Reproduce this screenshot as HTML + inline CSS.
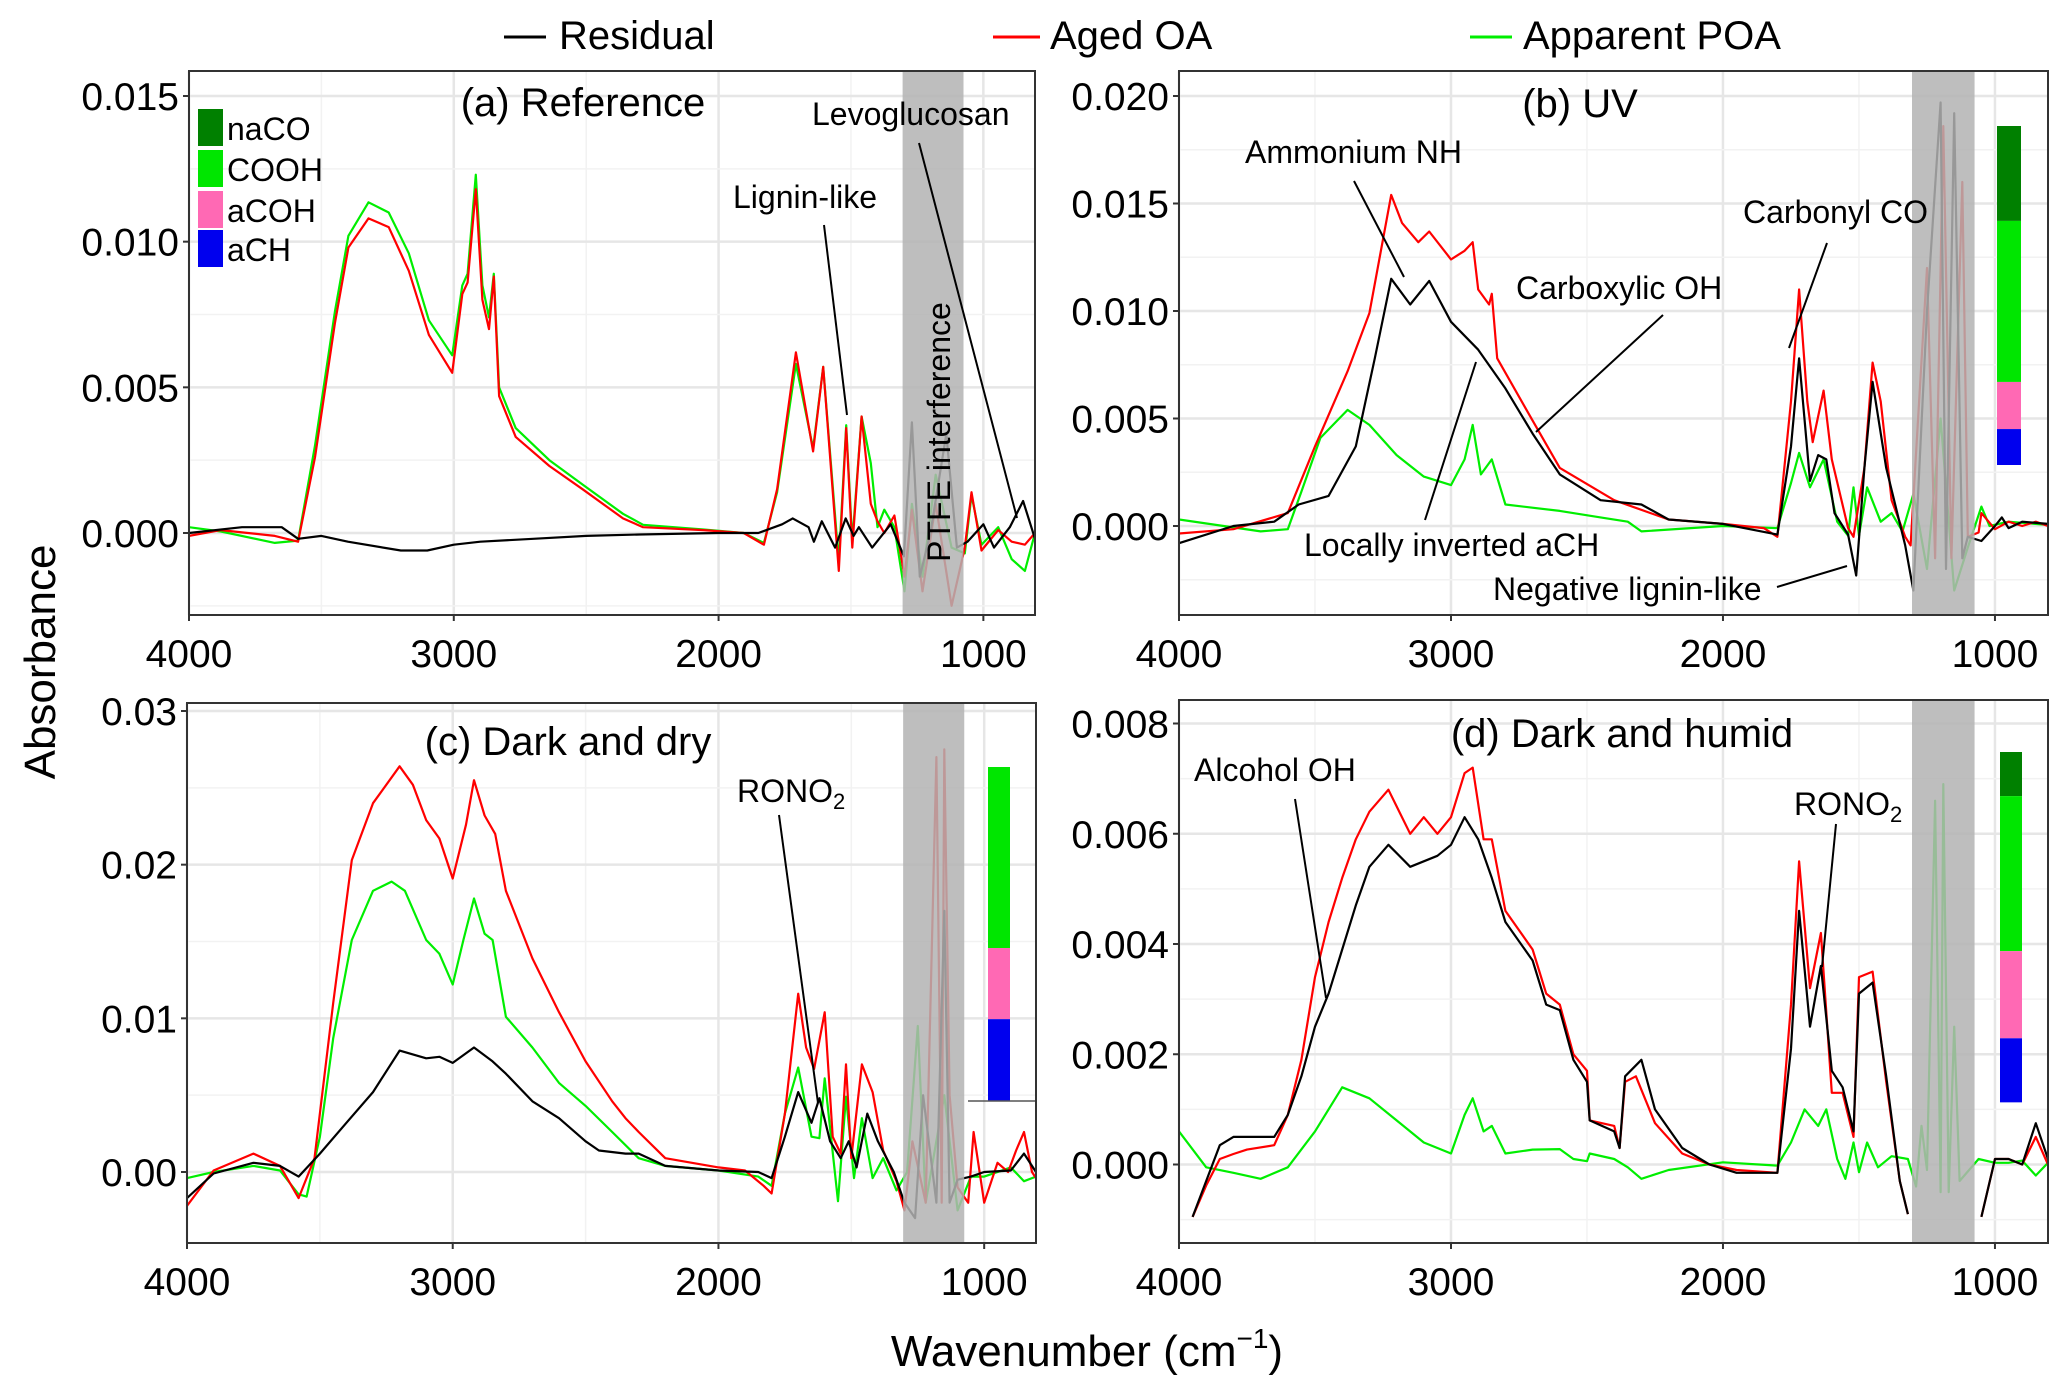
<!DOCTYPE html>
<html><head><meta charset="utf-8">
<style>
html,body{margin:0;padding:0;background:#fff;}
svg{display:block;font-family:"Liberation Sans",sans-serif;}
</style></head>
<body>
<svg id="chart" width="2067" height="1390" viewBox="0 0 2067 1390" xmlns="http://www.w3.org/2000/svg">
<g id="legend">
  <g><line x1="504" y1="37" x2="546" y2="37" stroke="#000" stroke-width="3"/><text x="559" y="49" font-size="40">Residual</text></g>
  <g><line x1="993" y1="37" x2="1040" y2="37" stroke="#f00" stroke-width="3"/><text x="1050" y="49" font-size="40">Aged OA</text></g>
  <g><line x1="1470" y1="37" x2="1512" y2="37" stroke="#0e0" stroke-width="3"/><text x="1523" y="49" font-size="40">Apparent POA</text></g>
</g>
<text transform="translate(55,662) rotate(-90)" text-anchor="middle" font-size="44">Absorbance</text>
<text x="1087" y="1366" text-anchor="middle" font-size="44">Wavenumber (cm<tspan dy="-18" font-size="28">−1</tspan><tspan dy="18">)</tspan></text>
</svg>
<script>
// ---------- data (absorbance in units of 1e-3) ----------
const aResWn=[4000,3800,3650,3588,3500,3400,3200,3100,3000,2900,2700,2500,2300,2000,1850,1760,1720,1660,1640,1610,1560,1520,1490,1470,1420,1350,1300,1270,1240,1200,1140,1100,1060,1000,960,900,850,805];
const aResVal=[0,0.2,0.2,-0.2,-0.1,-0.3,-0.6,-0.6,-0.4,-0.3,-0.2,-0.1,-0.05,0,0,0.3,0.5,0.2,-0.3,0.4,-0.5,0.5,-0.1,0.2,-0.5,0.3,-0.8,3.8,-1.5,0,3.4,-0.5,-0.3,0.3,-0.5,0.2,1.1,-0.2];
const aAgedWn=[4000,3879,3676,3588,3524,3449,3398,3322,3246,3170,3094,3006,2968,2948,2917,2892,2867,2849,2829,2766,2639,2513,2361,2285,2057,1905,1829,1779,1708,1643,1605,1546,1518,1495,1460,1425,1400,1374,1336,1298,1270,1230,1180,1120,1070,1045,1007,944,893,843,805];
const aAgedVal=[-0.1,0.1,-0.1,-0.3,2.6,7.2,9.8,10.8,10.5,9.0,6.8,5.5,8.2,8.6,11.8,8.0,7.0,8.8,4.7,3.3,2.3,1.5,0.5,0.2,0.1,0,-0.4,1.5,6.2,2.8,5.7,-1.3,3.6,-0.5,4.0,1.0,0.4,0.0,0.6,-1.5,0.8,-2.0,1.0,-2.5,-0.5,1.4,-0.6,0.1,-0.3,-0.4,0];
const aPoaWn=aAgedWn;
const aPoaVal=[0.2,0.05,-0.34,-0.26,3.0,7.6,10.2,11.35,11.0,9.6,7.3,6.1,8.5,8.9,12.3,8.5,7.4,8.9,5.0,3.6,2.5,1.66,0.66,0.28,0.12,0,-0.34,1.4,5.8,2.9,5.7,-1.0,3.7,-0.3,4.0,2.4,0.2,0.8,0.2,-2.0,1.0,-1.5,2.0,-0.5,-0.7,1.3,-0.4,0.2,-0.9,-1.3,0];

const bAgedWn=[4000,3800,3600,3500,3380,3300,3220,3180,3120,3080,3000,2950,2920,2900,2860,2850,2830,2700,2600,2400,2200,2000,1850,1800,1750,1720,1690,1670,1630,1600,1540,1520,1480,1450,1420,1380,1330,1310,1250,1220,1190,1160,1120,1100,1060,1050,1000,950,900,850,805];
const bAgedVal=[-0.35,-0.15,0.6,3.7,7.2,9.9,15.4,14.1,13.2,13.7,12.4,12.8,13.2,11.0,10.3,10.8,7.8,4.9,2.7,1.2,0.3,0.1,-0.1,-0.5,5.8,11.0,5.8,3.9,6.3,3.1,-0.1,-0.5,2.7,7.6,5.8,1.2,-0.5,-0.9,12.0,-1.5,18.6,-1.5,16.0,-0.5,-0.3,0.6,-0.15,0.2,0,0.2,0];
const bResWn=[4000,3800,3650,3560,3450,3350,3280,3220,3150,3080,3000,2900,2800,2700,2600,2450,2300,2200,2000,1800,1750,1720,1680,1650,1620,1590,1540,1510,1480,1450,1400,1330,1300,1250,1200,1180,1150,1120,1100,1050,1000,975,950,900,805];
const bResVal=[-0.8,0,0.2,1.0,1.4,3.7,7.8,11.5,10.3,11.4,9.5,8.2,6.4,4.3,2.4,1.2,1.0,0.3,0.1,-0.4,3.7,7.8,2.1,3.3,3.1,0.6,-0.4,-2.3,2.7,6.7,2.7,-0.9,-3.0,10.0,19.7,-2,19.2,-1.5,-0.5,-0.7,0,0.4,-0.1,0.2,0.1];
const bPoaWn=[4000,3700,3600,3550,3480,3380,3300,3200,3100,3000,2950,2920,2890,2850,2800,2600,2450,2350,2300,2000,1800,1750,1720,1680,1630,1580,1540,1520,1500,1470,1420,1380,1340,1300,1250,1200,1150,1100,1050,1020,950,805];
const bPoaVal=[0.3,-0.25,-0.15,1.6,4.1,5.4,4.7,3.3,2.3,1.9,3.1,4.7,2.4,3.1,1.0,0.7,0.4,0.2,-0.25,0,-0.1,2.0,3.4,1.8,3.1,0.2,-0.45,1.8,-0.45,1.8,0.2,0.6,-0.25,1.5,-2.0,5.0,-3.0,-1,0.9,0,0.2,0.05];

const cAgedWn=[4000,3900,3750,3650,3580,3520,3450,3380,3300,3200,3150,3100,3050,3000,2950,2920,2880,2840,2800,2700,2600,2500,2400,2350,2300,2200,2000,1900,1830,1800,1750,1700,1670,1640,1600,1570,1540,1520,1500,1460,1420,1380,1330,1300,1270,1220,1180,1160,1150,1130,1100,1060,1040,1000,950,910,880,850,820,805];
const cAgedVal=[-2.2,0.1,1.2,0.4,-1.7,0.9,11.0,20.3,24.0,26.4,25.2,22.9,21.7,19.1,22.6,25.5,23.2,22.0,18.3,13.9,10.4,7.2,4.6,3.5,2.6,0.9,0.3,0.1,-0.9,-1.4,3.8,11.6,8.1,6.7,10.4,2.3,1.2,7.0,0.9,7.0,5.2,1.4,-0.6,-2.5,2,-2,27,-2,27.5,5,-1,-2.0,2.6,-2.0,0.6,0,1.4,2.6,0,-0.4];
const cPoaWn=[4000,3900,3750,3650,3580,3550,3500,3450,3380,3300,3230,3180,3100,3050,3000,2960,2920,2880,2850,2800,2700,2600,2500,2400,2300,2200,2000,1850,1800,1750,1700,1650,1620,1600,1550,1520,1490,1460,1420,1380,1330,1290,1250,1220,1150,1100,1050,1000,900,850,805];
const cPoaVal=[-0.4,0,0.4,0.1,-1.45,-1.6,2.3,8.7,15.1,18.3,18.9,18.3,15.1,14.2,12.2,15.1,17.8,15.5,15.1,10.1,8.1,5.8,4.3,2.6,0.9,0.4,0.1,-0.3,-0.9,3.8,6.8,2.3,2.2,6.1,-1.9,4.9,-0.4,3.5,-0.4,0.9,-1.2,0,9.5,-2,5,-2.5,-0.3,-0.3,0.3,-0.6,-0.3];
const cResWn=[4000,3900,3750,3650,3580,3500,3400,3300,3200,3100,3050,3000,2920,2850,2800,2700,2600,2500,2450,2350,2300,2200,2000,1850,1800,1750,1700,1650,1620,1580,1540,1510,1480,1440,1400,1340,1300,1260,1230,1180,1150,1130,1100,1050,1000,900,850,805];
const cResVal=[-1.7,-0.1,0.6,0.4,-0.3,1.2,3.2,5.2,7.9,7.4,7.5,7.1,8.1,7.2,6.4,4.6,3.5,2.0,1.4,1.2,1.2,0.4,0.1,0,-0.4,2.3,5.2,3.2,4.8,2.0,0.9,2.0,0.3,3.8,2.0,0,-2.0,-3,5,-2,17,-2,-0.5,-0.3,0,0.1,1.2,0];

const dAgedWn=[3950,3900,3850,3800,3750,3650,3600,3550,3500,3450,3400,3350,3300,3230,3150,3100,3050,3000,2950,2920,2880,2850,2800,2700,2650,2600,2550,2500,2490,2400,2380,2360,2320,2250,2150,2050,1950,1800,1750,1720,1680,1640,1600,1560,1520,1500,1450,1400,1350,1320,null,1050,1000,950,900,850,805];
const dAgedVal=[-0.95,-0.38,0.1,0.19,0.27,0.35,0.9,1.9,3.4,4.4,5.2,5.9,6.4,6.8,6.0,6.3,6.0,6.3,7.1,7.2,5.9,5.9,4.6,3.9,3.1,2.9,2.0,1.7,0.8,0.7,0.3,1.5,1.6,0.75,0.2,0.0,-0.1,-0.15,2.9,5.5,3.2,4.2,1.3,1.3,0.5,3.4,3.5,1.5,-0.3,-0.9,null,-0.95,0.1,0.1,0.0,0.5,0.0];
const dResWn=[3950,3900,3850,3800,3650,3600,3550,3500,3450,3400,3350,3300,3230,3150,3100,3050,3000,2950,2900,2850,2800,2700,2650,2600,2550,2500,2490,2400,2380,2360,2300,2250,2150,2050,1950,1800,1750,1720,1680,1640,1600,1560,1520,1500,1450,1400,1350,1320,null,1050,1000,950,900,850,805];
const dResVal=[-0.95,-0.3,0.35,0.5,0.5,0.9,1.6,2.5,3.1,3.9,4.7,5.4,5.8,5.4,5.5,5.6,5.8,6.3,5.9,5.2,4.4,3.7,2.9,2.8,1.9,1.5,0.8,0.6,0.3,1.6,1.9,1.0,0.3,0.0,-0.15,-0.15,2.1,4.6,2.5,3.6,1.7,1.4,0.6,3.1,3.3,1.6,-0.3,-0.9,null,-0.95,0.1,0.1,0.0,0.75,0.1];
const dPoaWn=[4000,3900,3800,3700,3600,3500,3400,3300,3200,3100,3000,2950,2920,2880,2850,2800,2700,2600,2550,2500,2490,2400,2350,2300,2200,2000,1800,1750,1700,1650,1620,1580,1550,1520,1500,1470,1430,1380,1320,1290,1270,1250,1220,1200,1190,1170,1150,1130,1060,1000,950,900,850,805];
const dPoaVal=[0.6,-0.05,-0.15,-0.26,-0.05,0.6,1.4,1.2,0.8,0.4,0.2,0.9,1.2,0.6,0.7,0.2,0.27,0.28,0.1,0.06,0.2,0.1,-0.05,-0.26,-0.1,0.04,-0.02,0.4,1.0,0.7,1.0,0.1,-0.26,0.4,-0.14,0.4,-0.05,0.15,0.1,-0.4,0.7,-0.1,6.6,-0.5,6.9,-0.5,2.5,-0.3,0.1,0.03,0.03,0.07,-0.2,0.03];

// functional-group bar fractions (naCO, COOH, aCOH, aCH)
const barGroups=["naCO","COOH","aCOH","aCH"];
const bBarFrac=[0.28,0.475,0.139,0.106];
const cBarFrac=[0,0.542,0.213,0.245];
const dBarFrac=[0.126,0.443,0.249,0.183];

const xTickVals=[4000,3000,2000,1000];
const aYTicks=[0,0.005,0.010,0.015], aYLabels=["0.000","0.005","0.010","0.015"];
const bYTicks=[0,0.005,0.010,0.015,0.020], bYLabels=["0.000","0.005","0.010","0.015","0.020"];
const cYTicks=[0,0.01,0.02,0.03], cYLabels=["0.00","0.01","0.02","0.03"];
const dYTicks=[0,0.002,0.004,0.006,0.008], dYLabels=["0.000","0.002","0.004","0.006","0.008"];

// ---------- drawing ----------
const NS="http://www.w3.org/2000/svg";
const svg=document.getElementById('chart');
function mk(tag,attrs,parent){const e=document.createElementNS(NS,tag);for(const k in attrs)e.setAttribute(k,attrs[k]);(parent||svg).appendChild(e);return e;}
const COLORS={naCO:"#008000",COOH:"#00e600",aCOH:"#ff69b4",aCH:"#0000ee"};

function panel(P){
  const g=mk('g',{});
  
  
  const X=wn=>P.x0+(4000-wn)/(4000-805)*(P.x1-P.x0);
  const Y=v=>P.yZero+(P.yRef-P.yZero)*(v/P.refVal);
  mk('rect',{x:P.x0,y:P.y0,width:P.x1-P.x0,height:P.y1-P.y0,fill:'#fff'},g);
  // grid
  [1500,2500,3500].forEach(w=>mk('line',{x1:X(w),x2:X(w),y1:P.y0,y2:P.y1,stroke:'#f2f2f2','stroke-width':1.5},g));
  xTickVals.forEach(w=>mk('line',{x1:X(w),x2:X(w),y1:P.y0,y2:P.y1,stroke:'#e6e6e6','stroke-width':2.5},g));
  const step=P.yTicks[1]-P.yTicks[0];
  for(let v=P.yTicks[0]-step*1.5;v<P.yTicks[P.yTicks.length-1]+step;v+=step){const y=Y(v);if(y>P.y0&&y<P.y1)mk('line',{x1:P.x0,x2:P.x1,y1:y,y2:y,stroke:'#f2f2f2','stroke-width':1.5},g);}
  P.yTicks.forEach(v=>mk('line',{x1:P.x0,x2:P.x1,y1:Y(v),y2:Y(v),stroke:'#e6e6e6','stroke-width':2.5},g));
  // series
  const clip='clip-'+P.id;
  const cp=mk('clipPath',{id:clip},g);mk('rect',{x:P.x0,y:P.y0,width:P.x1-P.x0,height:P.y1-P.y0},cp);
  const series=[[P.poaWn,P.poaVal,'#00ee00','apparent-poa-line'],[P.agedWn,P.agedVal,'#ff0000','aged-oa-line'],[P.resWn,P.resVal,'#000','residual-line']];
  series.forEach(s=>{
    let d='',pen=false;
    for(let i=0;i<s[0].length;i++){
      if(s[0][i]===null){pen=false;continue;}
      d+=(pen?'L':'M')+X(s[0][i]).toFixed(1)+','+Y(s[1][i]/1000).toFixed(1);pen=true;
    }
    const p=mk('path',{d:d,fill:'none',stroke:s[2],'stroke-width':2.2,'clip-path':'url(#'+clip+')','stroke-linejoin':'round'},g);
    
    
  });
  // PTFE band
  const band=mk('rect',{x:X(1305),y:P.y0,width:X(1075)-X(1305),height:P.y1-P.y0,fill:'#b3b3b3','fill-opacity':0.85},g);
  
  
  // bars
  if(P.bar){
    const B=P.bar;let y=B.top;
    barGroups.forEach((k,i)=>{const h=B.frac[i]*(B.bottom-B.top);if(h>0){const r=mk('rect',{x:B.x,y:y,width:B.w,height:h,fill:COLORS[k]},g);
      
      }
      y+=h;});
  }
  // border
  mk('rect',{x:P.x0,y:P.y0,width:P.x1-P.x0,height:P.y1-P.y0,fill:'none',stroke:'#333','stroke-width':2},g);
  // ticks
  xTickVals.forEach(w=>{mk('line',{x1:X(w),x2:X(w),y1:P.y1,y2:P.y1+6,stroke:'#333','stroke-width':2},g);
    const t=mk('text',{x:X(w),y:P.y1+52,'text-anchor':'middle','font-size':39},g);t.textContent=w;
    
    });
  P.yTicks.forEach((v,i)=>{mk('line',{x1:P.x0-6,x2:P.x0,y1:Y(v),y2:Y(v),stroke:'#333','stroke-width':2},g);
    const t=mk('text',{x:P.x0-10,y:Y(v)+14,'text-anchor':'end','font-size':39},g);t.textContent=P.yLabels[i];
    
    });
  const tt=mk('text',{x:P.titleX,y:P.titleY,'text-anchor':'middle','font-size':40},g);tt.textContent=P.title;
  
  
  return g;
}
function annot(label,tx,ty,x1,y1,x2,y2,sub){
  const g=mk('g',{});
  
  
  const t=mk('text',{x:tx,y:ty,'font-size':32},g);t.textContent=label;
  if(sub){const s=mk('tspan',{'font-size':22,dy:7},t);s.textContent=sub;}
  mk('line',{x1:x1,y1:y1,x2:x2,y2:y2,stroke:'#000','stroke-width':2},g);
}

panel({id:'a',x0:189,x1:1035,y0:71,y1:615,yZero:533,yRef:96,refVal:0.015,yTicks:aYTicks,yLabels:aYLabels,
  resWn:aResWn,resVal:aResVal,agedWn:aAgedWn,agedVal:aAgedVal,poaWn:aPoaWn,poaVal:aPoaVal,title:'(a) Reference',titleX:583,titleY:116});
panel({id:'b',x0:1179,x1:2048,y0:71,y1:615,yZero:526,yRef:96,refVal:0.020,yTicks:bYTicks,yLabels:bYLabels,
  resWn:bResWn,resVal:bResVal,agedWn:bAgedWn,agedVal:bAgedVal,poaWn:bPoaWn,poaVal:bPoaVal,title:'(b) UV',titleX:1580,titleY:117,
  bar:{x:1997,w:24,top:126,bottom:465,frac:bBarFrac}});
panel({id:'c',x0:187,x1:1036,y0:703,y1:1243,yZero:1172,yRef:711,refVal:0.03,yTicks:cYTicks,yLabels:cYLabels,
  resWn:cResWn,resVal:cResVal,agedWn:cAgedWn,agedVal:cAgedVal,poaWn:cPoaWn,poaVal:cPoaVal,title:'(c) Dark and dry',titleX:568,titleY:755,
  bar:{x:988,w:22,top:767,bottom:1101,frac:cBarFrac}});
mk('line',{x1:968,x2:1035,y1:1101,y2:1101,stroke:'#555','stroke-width':1.5});
panel({id:'d',x0:1179,x1:2048,y0:700,y1:1243,yZero:1164.5,yRef:723.5,refVal:0.008,yTicks:dYTicks,yLabels:dYLabels,
  resWn:dResWn,resVal:dResVal,agedWn:dAgedWn,agedVal:dAgedVal,poaWn:dPoaWn,poaVal:dPoaVal,title:'(d) Dark and humid',titleX:1622,titleY:747,
  bar:{x:2000,w:22,top:752,bottom:1102,frac:dBarFrac}});

// legend squares in panel (a)
[['naCO',109],['COOH',150],['aCOH',191],['aCH',230]].forEach(([k,y])=>{
  const g=mk('g',{});
  
  
  mk('rect',{x:198,y:y,width:25,height:37,fill:COLORS[k]},g);
  const t=mk('text',{x:227,y:y+31,'font-size':32},g);t.textContent=k;
});
const pt=mk('text',{transform:'translate(950,432) rotate(-90)','text-anchor':'middle','font-size':32});
pt.textContent='PTFE interference';



annot('Levoglucosan',812,125,919,143,1017,518);
annot('Lignin-like',733,208,824,225,847,415);
annot('Ammonium NH',1245,163,1354,181,1404,277);
annot('Carboxylic OH',1516,299,1663,315,1536,432);
annot('Locally inverted aCH',1304,556,1425,520,1476,362);
annot('Carbonyl CO',1743,223,1827,243,1789,348);
annot('Negative lignin-like',1493,600,1777,587,1847,566);
annot('RONO',737,802,779,815,818,1103,'2');
annot('Alcohol OH',1194,781,1295,799,1326,998);
annot('RONO',1794,815,1836,824,1822,967,'2');
</script>
</body></html>
